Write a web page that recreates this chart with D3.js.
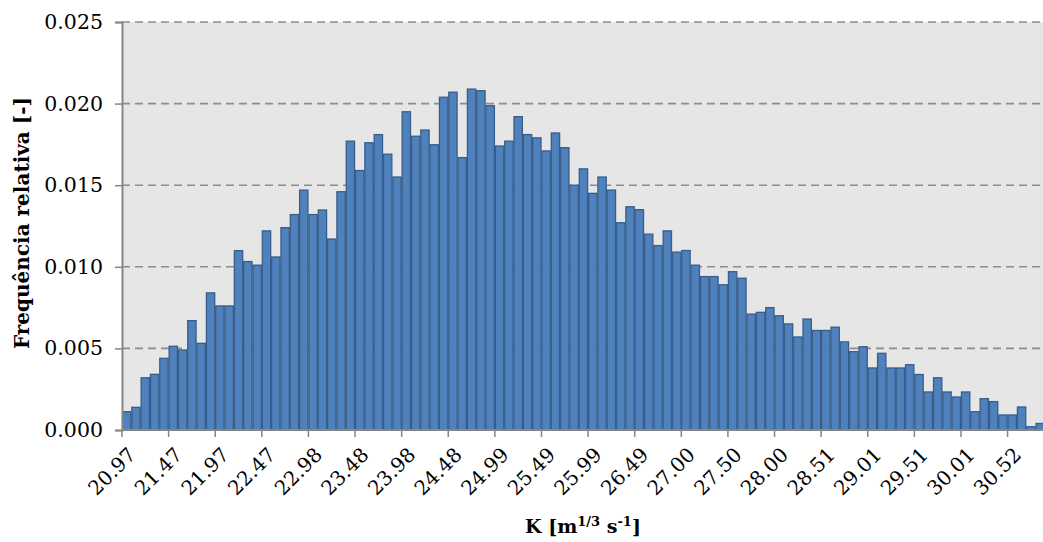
<!DOCTYPE html>
<html>
<head>
<meta charset="utf-8">
<script src="https://cdn.jsdelivr.net/npm/d3@7"></script>
<style>
  html, body { margin: 0; padding: 0; background: #ffffff; }
  svg { display: block; }
  text { font-family: "DejaVu Serif", "Liberation Serif", serif; fill: #000; }
</style>
</head>
<body>
<svg id="chart" width="1043" height="542"></svg>
<script>
// Relative frequency of each K class (99 classes, width ≈ 0.1005)
const freq = [
  0.00112, 0.00139, 0.00320, 0.00341, 0.00439, 0.00513, 0.00490, 0.00670, 0.00531, 0.00840,
  0.00760, 0.00760, 0.01099, 0.01032, 0.01010, 0.01220, 0.01060, 0.01240, 0.01320, 0.01470,
  0.01320, 0.01348, 0.01170, 0.01460, 0.01770, 0.01590, 0.01760, 0.01810, 0.01690, 0.01550,
  0.01950, 0.01800, 0.01838, 0.01748, 0.02039, 0.02070, 0.01669, 0.02089, 0.02079, 0.01987,
  0.01740, 0.01770, 0.01920, 0.01810, 0.01790, 0.01710, 0.01820, 0.01730, 0.01500, 0.01600,
  0.01450, 0.01550, 0.01470, 0.01270, 0.01368, 0.01350, 0.01200, 0.01130, 0.01220, 0.01090,
  0.01100, 0.01010, 0.00940, 0.00940, 0.00890, 0.00970, 0.00930, 0.00710, 0.00721, 0.00750,
  0.00700, 0.00650, 0.00570, 0.00680, 0.00610, 0.00610, 0.00630, 0.00540, 0.00480, 0.00510,
  0.00380, 0.00470, 0.00380, 0.00380, 0.00400, 0.00340, 0.00233, 0.00320, 0.00233, 0.00202,
  0.00233, 0.00112, 0.00192, 0.00174, 0.00092, 0.00092, 0.00141, 0.00020, 0.00040
];

// Class index for each bar
const classes = freq.map((_, i) => i);

// Labels shown at every fifth class boundary
const kLabels = [
  "20.97", "21.47", "21.97", "22.47", "22.98", "23.48", "23.98", "24.48", "24.99", "25.49",
  "25.99", "26.49", "27.00", "27.50", "28.00", "28.51", "29.01", "29.51", "30.01", "30.52"
];

const yTicks = [0, 0.005, 0.010, 0.015, 0.020, 0.025];

const svg = d3.select("#chart");
const plotLeft = 122, plotTop = 22, plotBottom = 430;
const barStep = 9.322;
const plotRight = plotLeft + barStep * classes.length;
const tickFont = "'DejaVu Serif', serif";

const x = d3.scaleBand().domain(classes).range([plotLeft, plotRight]).padding(0);
const y = d3.scaleLinear().domain([0, 0.025]).range([plotBottom, plotTop]);

// Plot area background
svg.append("rect")
  .attr("x", plotLeft).attr("y", plotTop)
  .attr("width", plotRight - plotLeft).attr("height", plotBottom - plotTop)
  .attr("fill", "#e6e6e6");

// Horizontal dashed gridlines
svg.append("g").selectAll("line")
  .data(yTicks.filter(d => d > 0))
  .join("line")
  .attr("x1", plotLeft).attr("x2", plotRight)
  .attr("y1", d => y(d)).attr("y2", d => y(d))
  .attr("stroke", "#8c8c8c")
  .attr("stroke-width", 1.6)
  .attr("stroke-dasharray", "8,5");

// Bars
svg.append("g").selectAll("rect")
  .data(classes)
  .join("rect")
  .attr("x", d => x(d) + 0.5)
  .attr("width", x.bandwidth() - 1)
  .attr("y", d => y(freq[d]))
  .attr("height", d => y(0) - y(freq[d]))
  .attr("fill", "#4f81bd")
  .attr("stroke", "#385d8a")
  .attr("stroke-width", 1.3);

// Y axis
const yAxis = d3.axisLeft(y)
  .tickValues(yTicks)
  .tickSize(7)
  .tickPadding(12)
  .tickFormat(d3.format(".3f"));

const gy = svg.append("g").attr("transform", `translate(${plotLeft},0)`).call(yAxis);
gy.select(".domain").attr("stroke", "#868686").attr("stroke-width", 2);
gy.selectAll(".tick line").attr("stroke", "#868686").attr("stroke-width", 1.5);
gy.selectAll(".tick text")
  .style("font-family", tickFont)
  .style("font-size", "20.5px")
  .attr("fill", "#000");

// X axis: ticks at every fifth class start
const tickIdx = kLabels.map((_, i) => i * 5);
const xAxis = d3.axisBottom(x)
  .tickValues(tickIdx)
  .tickSize(7)
  .tickFormat((d, i) => kLabels[i]);

const gx = svg.append("g").attr("transform", `translate(0,${plotBottom})`).call(xAxis);
gx.select(".domain").attr("stroke", "#868686").attr("stroke-width", 2)
  .attr("d", `M${plotLeft},0H${plotRight}`);
gx.selectAll(".tick").attr("transform", d => `translate(${x(d)},0)`);
gx.selectAll(".tick line").attr("stroke", "#868686").attr("stroke-width", 1.5);
gx.selectAll(".tick text")
  .style("font-family", tickFont)
  .style("font-size", "20px")
  .attr("fill", "#000")
  .attr("text-anchor", "end")
  .attr("y", 0).attr("dy", 0)
  .attr("transform", "translate(15,26) rotate(-45)");

// Axis titles
svg.append("text")
  .attr("transform", "translate(29,223) rotate(-90)")
  .attr("text-anchor", "middle")
  .style("font-size", "20px")
  .style("font-weight", "bold")
  .text("Frequência relativa [-]");

const xt = svg.append("text")
  .attr("x", 583).attr("y", 533)
  .attr("text-anchor", "middle")
  .style("font-size", "19px")
  .style("font-weight", "bold");
xt.append("tspan").text("K [m");
xt.append("tspan").attr("dy", -7).style("font-size", "13px").text("1/3");
xt.append("tspan").attr("dy", 7).text(" s");
xt.append("tspan").attr("dy", -7).style("font-size", "13px").text("-1");
xt.append("tspan").attr("dy", 7).text("]");
</script>
</body>
</html>
